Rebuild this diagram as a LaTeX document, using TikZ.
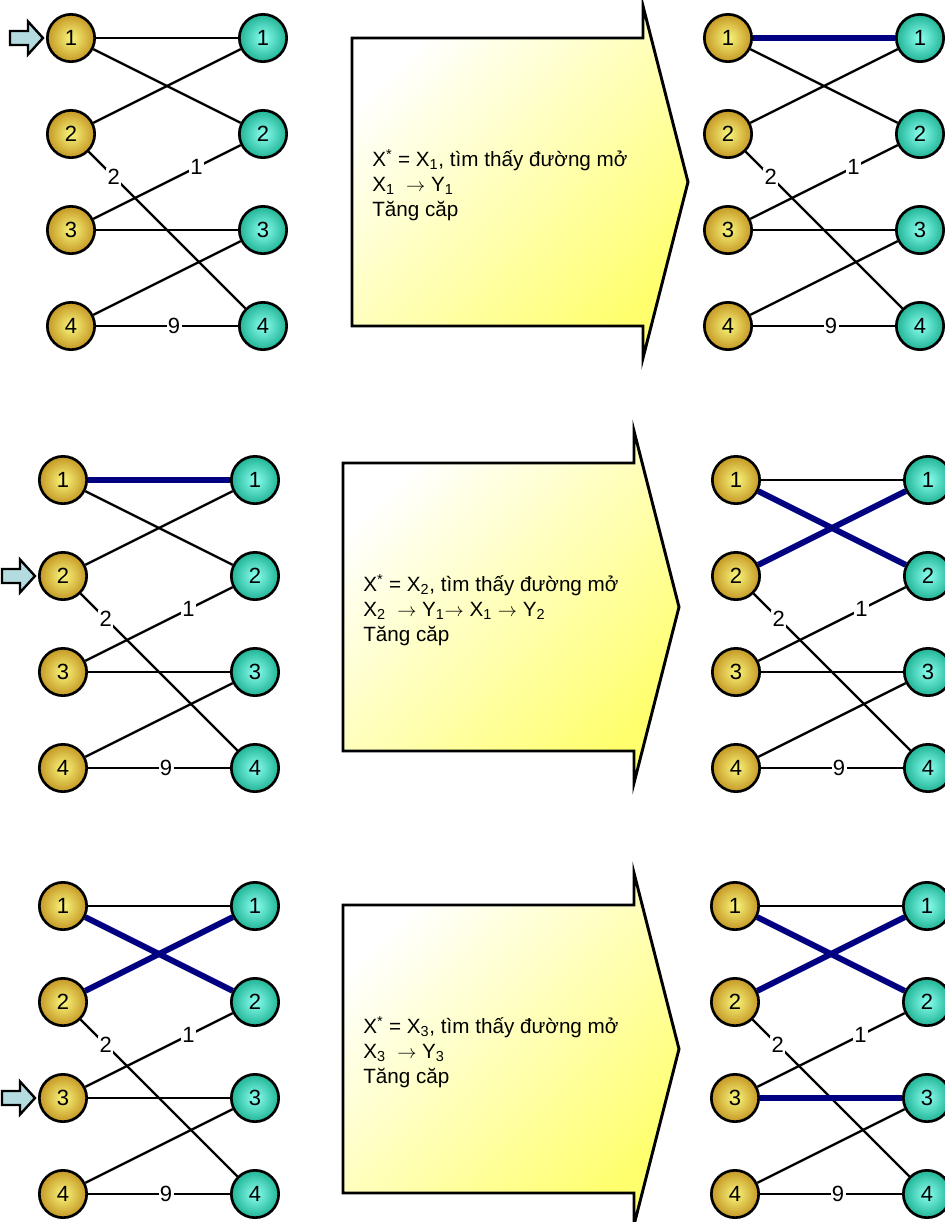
\documentclass[tikz,border=0pt]{standalone}
\usepackage{fontspec}
\setmainfont{Liberation Sans}
\usetikzlibrary{positioning}

\definecolor{goldrim}{RGB}{196,152,36}
\definecolor{goldcore}{RGB}{250,246,125}
\definecolor{tealrim}{RGB}{32,180,150}
\definecolor{tealcore}{RGB}{140,255,240}
\definecolor{matchblue}{RGB}{0,0,128}
\definecolor{pointerfill}{RGB}{180,220,224}
\definecolor{banneryellow}{RGB}{255,255,110}

% one bipartite graph: #1 name prefix, #2 x of left column, #3 y of top row
\newcommand\bigraph[3]{%
 \node[xvert] (#1x1) at (#2,#3) {1};
 \node[xvert,below=of #1x1] (#1x2) {2};
 \node[xvert,below=of #1x2] (#1x3) {3};
 \node[xvert,below=of #1x3] (#1x4) {4};
 \node[yvert,right=of #1x1] (#1y1) {1};
 \node[yvert,right=of #1x2] (#1y2) {2};
 \node[yvert,right=of #1x3] (#1y3) {3};
 \node[yvert,right=of #1x4] (#1y4) {4};
 \draw[edge] (#1x1)--(#1y1);
 \draw[edge] (#1x1)--(#1y2);
 \draw[edge] (#1x2)--(#1y1);
 \draw[edge] (#1x2)-- node[weight,pos=.16] (#1w2) {2} (#1y4);
 \draw[edge] (#1x3)-- node[weight,pos=.70] (#1w1) {1} (#1y2);
 \draw[edge] (#1x3)--(#1y3);
 \draw[edge] (#1x4)--(#1y3);
 \draw[edge] (#1x4)-- node[weight,pos=.55] (#1w9) {9} (#1y4);
}

% big step arrow: #1 name, #2 x, #3 y of top left corner, #4 text
\newcommand\banner[4]{%
 \draw[bannerbox] (#2,#3) -- (#2+291,#3) -- (#2+291,#3-32) -- (#2+336,#3+144)
   -- (#2+291,#3+320) -- (#2+291,#3+288) -- (#2,#3+288) -- cycle;
 \node[caption] (#1) at (#2+20,#3+147) {#4};
}
\newcommand\ra{\(\rightarrow\)}

\begin{document}
\begin{tikzpicture}[x=0.75pt,y=-0.75pt,node distance=34.5pt and 106.5pt,
 every node/.style={font=\fontsize{15.5pt}{18.75pt}\selectfont},
 xvert/.style={circle,draw,line width=2pt,minimum size=35.5pt,inner sep=0pt,
   font=\fontsize{16.5pt}{18pt}\selectfont,inner color=goldcore,outer color=goldrim},
 yvert/.style={circle,draw,line width=2pt,minimum size=35.5pt,inner sep=0pt,
   font=\fontsize{16.5pt}{18pt}\selectfont,inner color=tealcore,outer color=tealrim},
 edge/.style={line width=1.8pt},
 matched/.style={line width=4.5pt,matchblue},
 weight/.style={fill=white,inner sep=1pt,font=\fontsize{16.5pt}{18pt}\selectfont},
 pointer/.style={draw,line width=1.8pt,fill=pointerfill,line join=miter},
 bannerbox/.style={draw,line width=2.2pt,top color=white,bottom color=banneryellow,
   shading angle=45},
 caption/.style={anchor=west,align=left,inner sep=0pt}]
 \useasboundingbox (0,0) rectangle (945,1222);

 % step 1
 \bigraph{La}{71}{38}
 \bigraph{Ra}{728}{38}
 \draw[matched] (Rax1)--(Ray1);
 \draw[pointer] (Lax1.west) ++(-3,0) -- ++(-15,-16.5) -- ++(0,9.5) -- ++(-18,0)
   -- ++(0,14) -- ++(18,0) -- ++(0,9.5) -- cycle;
 \banner{ta}{352}{38}{X\textsuperscript{*} = X\textsubscript{1}, tìm thấy đường mở\\
   X\textsubscript{1} \ \ra{} Y\textsubscript{1}\\
   Tăng căp}

 % step 2
 \bigraph{Lb}{63}{480}
 \bigraph{Rb}{736}{480}
 \draw[matched] (Lbx1)--(Lby1);
 \draw[matched] (Rbx1)--(Rby2);
 \draw[matched] (Rbx2)--(Rby1);
 \draw[pointer] (Lbx2.west) ++(-3,0) -- ++(-15,-16.5) -- ++(0,9.5) -- ++(-18,0)
   -- ++(0,14) -- ++(18,0) -- ++(0,9.5) -- cycle;
 \banner{tb}{343}{463}{X\textsuperscript{*} = X\textsubscript{2}, tìm thấy đường mở\\
   X\textsubscript{2} \ \ra{} Y\textsubscript{1}\ra{} X\textsubscript{1} \ra{} Y\textsubscript{2}\\
   Tăng căp}

 % step 3
 \bigraph{Lc}{63}{906}
 \bigraph{Rc}{735}{906}
 \draw[matched] (Lcx1)--(Lcy2);
 \draw[matched] (Lcx2)--(Lcy1);
 \draw[matched] (Rcx1)--(Rcy2);
 \draw[matched] (Rcx2)--(Rcy1);
 \draw[matched] (Rcx3)--(Rcy3);
 \draw[pointer] (Lcx3.west) ++(-3,0) -- ++(-15,-16.5) -- ++(0,9.5) -- ++(-18,0)
   -- ++(0,14) -- ++(18,0) -- ++(0,9.5) -- cycle;
 \banner{tc}{343}{905}{X\textsuperscript{*} = X\textsubscript{3}, tìm thấy đường mở\\
   X\textsubscript{3} \ \ra{} Y\textsubscript{3}\\
   Tăng căp}
\end{tikzpicture}
\end{document}
